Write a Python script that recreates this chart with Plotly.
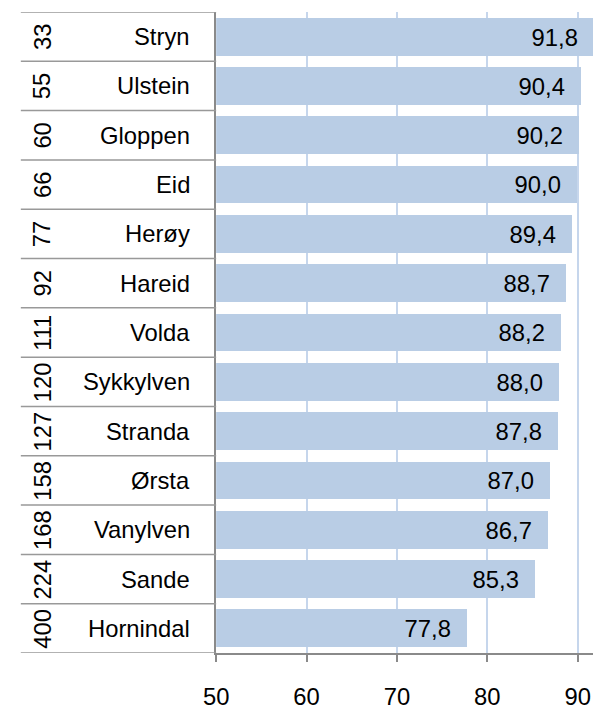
import plotly.graph_objects as go

names = ["Stryn", "Ulstein", "Gloppen", "Eid", "Herøy", "Hareid", "Volda",
         "Sykkylven", "Stranda", "Ørsta", "Vanylven", "Sande", "Hornindal"]
ranks = ["33", "55", "60", "66", "77", "92", "111", "120", "127", "158", "168", "224", "400"]
values = [91.8, 90.4, 90.2, 90.0, 89.4, 88.7, 88.2, 88.0, 87.8, 87.0, 86.7, 85.3, 77.8]
x_ticks = [50, 60, 70, 80, 90]

W, H = 593, 710
FONT = "Liberation Sans, Arial, sans-serif"
FS = 23.8
BAR = "#B9CDE5"
GRID = "#C6D6EC"
AXIS = "#8A8A8A"
NBSP = "\u00a0"

x0_px = 207.7
labels = [f"{v:.1f}".replace(".", ",") + NBSP * 2 for v in values]

fig = go.Figure()
fig.add_trace(go.Bar(
    x=values, y=names, orientation="h",
    marker=dict(color=BAR, line=dict(width=0)),
    width=0.765, hoverinfo="skip",
    text=labels, textposition="inside", insidetextanchor="end",
    textangle=0, constraintext="none",
    insidetextfont=dict(family=FONT, size=FS, color="#000"),
))

annotations = []
for n, r in zip(names, ranks):
    annotations.append(dict(x=183 / W, y=n, xref="paper", yref="y", text=n,
                            showarrow=False, xanchor="right",
                            font=dict(family=FONT, size=FS, color="#000")))
    annotations.append(dict(x=30 / W, y=n, xref="paper", yref="y", text=r,
                            showarrow=False, textangle=-90, xanchor="center",
                            font=dict(family=FONT, size=FS, color="#000")))

shapes = []
for i in range(len(names) + 1):
    shapes.append(dict(type="line", xref="paper", yref="y",
                       x0=8 / W, x1=x0_px / W, y0=i - 0.5, y1=i - 0.5,
                       line=dict(color="#999999", width=1.5), layer="above"))

fig.update_layout(
    width=W, height=H,
    margin=dict(l=0, r=0, t=12, b=46),
    paper_bgcolor="white", plot_bgcolor="white",
    showlegend=False,
    bargap=0,
    annotations=annotations,
    shapes=shapes,
    xaxis=dict(
        domain=[x0_px / W, 1], range=[50, 91.7],
        tickvals=x_ticks, ticktext=[str(t) for t in x_ticks],
        showgrid=True, gridcolor=GRID, gridwidth=2,
        showline=True, linecolor=AXIS, linewidth=2,
        ticks="outside", ticklen=7, tickwidth=2, tickcolor=AXIS,
        ticklabelstandoff=14,
        tickfont=dict(family=FONT, size=FS, color="#000"),
        zeroline=False, fixedrange=True,
    ),
    yaxis=dict(
        categoryorder="array", categoryarray=names,
        range=[len(names) - 0.5, -0.5],
        showticklabels=False, showgrid=False,
        showline=True, linecolor=AXIS, linewidth=2,
        ticks="", zeroline=False, fixedrange=True,
    ),
)

fig.write_html("out.html", config={"displayModeBar": False},
               post_script="document.body.style.margin='0';document.body.style.overflow='hidden';")
